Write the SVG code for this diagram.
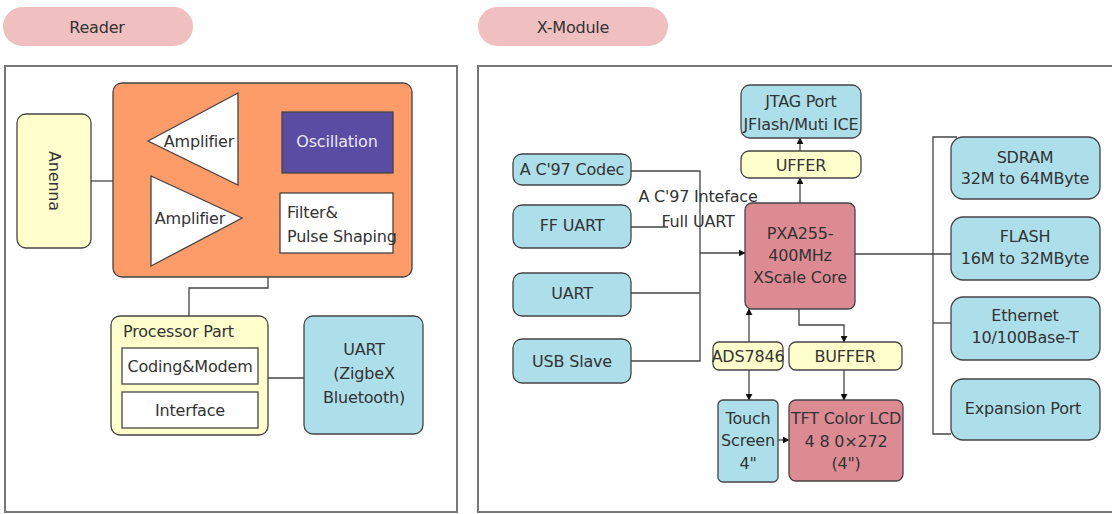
<svg xmlns="http://www.w3.org/2000/svg" width="1112" height="514" viewBox="0 0 1112 514">
<defs>
<style>
text{font-family:"DejaVu Sans","Liberation Sans",sans-serif;font-size:16px;fill:#333;text-anchor:middle;dominant-baseline:central;letter-spacing:-0.2px}
.pill{fill:#F0C0C0}
.panel{fill:#fff;stroke:#777;stroke-width:2}
.b{stroke:#444;stroke-width:1.3}
.yel{fill:#FFFFCC}
.blue{fill:#ACDFEA}
.pink{fill:#DD8B93}
.wht{fill:#fff}
.ln{fill:none;stroke:#444;stroke-width:1.3}
</style>
<marker id="ar" viewBox="0 0 10 10" refX="9" refY="5" markerWidth="7" markerHeight="7" orient="auto-start-reverse" markerUnits="userSpaceOnUse"><path d="M0,0L10,5L0,10z" fill="#111"/></marker>
</defs>
<rect width="1112" height="514" fill="#fff"/>
<g id="pill-reader"><rect class="pill" x="3" y="7" width="190" height="39" rx="19.5"/><text x="97" y="27">Reader</text></g>
<g id="pill-xmodule"><rect class="pill" x="478" y="7" width="190" height="39" rx="19.5"/><text x="573" y="27">X-Module</text></g>
<g id="panel-reader"><rect class="panel" x="5" y="66" width="452" height="446"/></g>
<g id="panel-xmodule"><rect class="panel" x="478" y="66" width="640" height="446"/></g>
<g id="connectors">
<path class="ln" d="M91,181H113"/>
<path class="ln" d="M238,141H282"/>
<path class="ln" d="M242,218H280"/>
<path class="ln" d="M268,277V288H189V316"/>
<path class="ln" d="M268,378H304"/>
<path class="ln" d="M631,171H700V361H631"/>
<path class="ln" d="M631,227H668"/>
<path class="ln" d="M631,293H700"/>
<path class="ln" d="M700,253H745" marker-end="url(#ar)"/>
<path class="ln" d="M800,203V178" marker-end="url(#ar)"/>
<path class="ln" d="M800,151V138" marker-end="url(#ar)"/>
<path class="ln" d="M957,137H933V434H951"/>
<path class="ln" d="M855,254H951"/>
<path class="ln" d="M933,323H951"/>
<path class="ln" d="M799,309V325H844V342" marker-end="url(#ar)"/>
<path class="ln" d="M844,370V400" marker-end="url(#ar)"/>
<path class="ln" d="M749,342V309" marker-end="url(#ar)"/>
<path class="ln" d="M749,370V400" marker-end="url(#ar)"/>
<path class="ln" d="M778,440H789" marker-end="url(#ar)"/>
</g>
<g id="anenna"><rect class="yel b" x="17" y="114" width="74" height="134" rx="9"/><text transform="translate(54,181) rotate(90)">Anenna</text></g>
<g id="rf-block"><rect x="113" y="83" width="299" height="194" rx="9" fill="#FD9B69" class="b"/></g>
<g id="amp1"><path d="M148,141L238,93V185Z" class="wht b"/><text x="199" y="141">Amplifier</text></g>
<g id="oscillation"><rect x="282" y="112" width="111" height="61" fill="#5A4CA2" class="b"/><text x="337" y="141" style="fill:#e8e6f4">Oscillation</text></g>
<g id="amp2"><path d="M151,176L242,218L151,266Z" class="wht b"/><text x="190" y="218">Amplifier</text></g>
<g id="filter"><rect x="280" y="193" width="113" height="60" class="wht b"/><text x="287" y="212" style="text-anchor:start">Filter&amp;</text><text x="287" y="236" style="text-anchor:start">Pulse Shaping</text></g>
<g id="processor"><rect x="111" y="316" width="157" height="119" rx="9" class="yel b"/><text x="123" y="331" style="text-anchor:start">Processor Part</text>
<rect x="122" y="348" width="136" height="36" class="wht b"/><text x="190" y="366">Coding&amp;Modem</text>
<rect x="122" y="392" width="136" height="36" class="wht b"/><text x="190" y="410">Interface</text></g>
<g id="uart-reader"><rect x="304" y="316" width="119" height="118" rx="9" class="blue b"/><text x="364" y="349">UART</text><text x="364" y="373">(ZigbeX</text><text x="364" y="397">Bluetooth)</text></g>
<g id="codec"><rect x="513" y="154" width="118" height="31" rx="9" class="blue b"/><text x="572" y="169">A C'97 Codec</text></g>
<g id="ffuart"><rect x="513" y="205" width="118" height="43" rx="9" class="blue b"/><text x="572" y="225">FF UART</text></g>
<g id="uart"><rect x="513" y="273" width="118" height="43" rx="9" class="blue b"/><text x="572" y="293">UART</text></g>
<g id="usb"><rect x="513" y="339" width="118" height="44" rx="9" class="blue b"/><text x="572" y="361">USB Slave</text></g>
<g id="bus-labels"><text x="698" y="196">A C'97 Inteface</text><text x="698" y="221">Full UART</text></g>
<g id="jtag"><rect x="741" y="85" width="120" height="53" rx="9" class="blue b"/><text x="801" y="101">JTAG Port</text><text x="801" y="124">JFlash/Muti ICE</text></g>
<g id="uffer"><rect x="741" y="151" width="120" height="27" rx="8" class="yel b"/><text x="801" y="165">UFFER</text></g>
<g id="pxa"><rect x="745" y="203" width="110" height="106" rx="7" class="pink b"/><text x="800" y="233">PXA255-</text><text x="800" y="255">400MHz</text><text x="800" y="277">XScale Core</text></g>
<g id="sdram"><rect x="951" y="137" width="149" height="62" rx="12" class="blue b"/><text x="1025" y="157">SDRAM</text><text x="1025" y="178">32M to 64MByte</text></g>
<g id="flash"><rect x="951" y="217" width="149" height="63" rx="12" class="blue b"/><text x="1025" y="236">FLASH</text><text x="1025" y="258">16M to 32MByte</text></g>
<g id="ethernet"><rect x="951" y="297" width="149" height="63" rx="12" class="blue b"/><text x="1025" y="315">Ethernet</text><text x="1025" y="337">10/100Base-T</text></g>
<g id="expansion"><rect x="951" y="379" width="149" height="61" rx="12" class="blue b"/><text x="1023" y="408">Expansion Port</text></g>
<g id="ads"><rect x="713" y="342" width="70" height="28" rx="6" class="yel b"/><text x="748" y="356">ADS7846</text></g>
<g id="buffer"><rect x="789" y="342" width="113" height="28" rx="7" class="yel b"/><text x="845" y="356">BUFFER</text></g>
<g id="touch"><rect x="718" y="400" width="60" height="82" rx="5" class="blue b"/><text x="748" y="418">Touch</text><text x="748" y="440">Screen</text><text x="748" y="463">4"</text></g>
<g id="tft"><rect x="789" y="400" width="114" height="81" rx="7" class="pink b"/><text x="846" y="418">TFT Color LCD</text><text x="846" y="441">4 8 0×272</text><text x="846" y="463">(4")</text></g>
</svg>
